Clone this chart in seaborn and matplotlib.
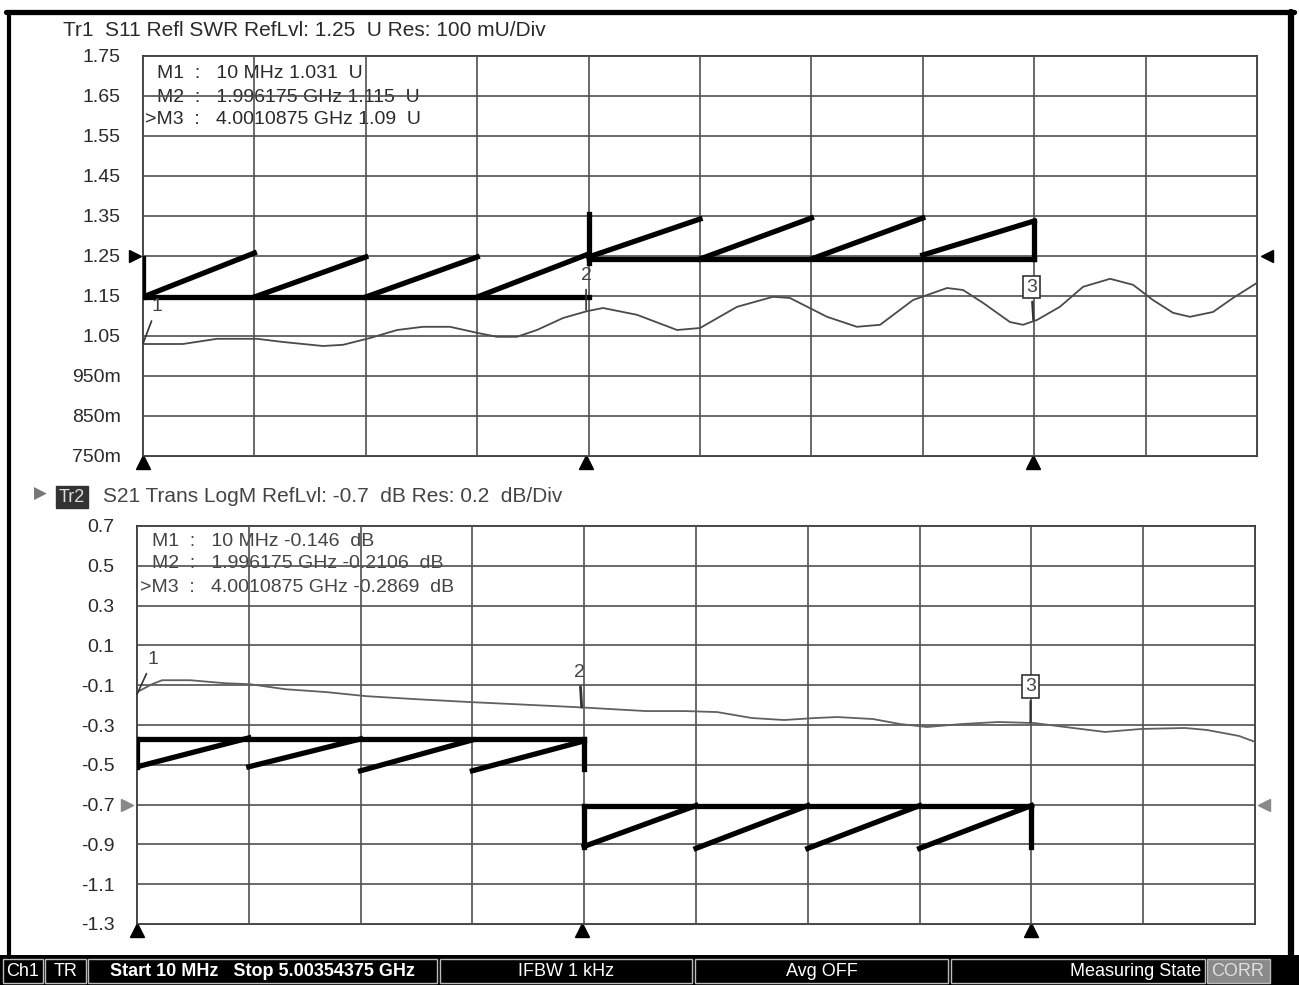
import numpy as np
import matplotlib
matplotlib.use("Agg")
import matplotlib.pyplot as plt
from matplotlib.lines import Line2D
from matplotlib.patches import Rectangle
import seaborn as sns

W, H = 1299, 985

# sweep (GHz)
f_start = 0.01
f_stop = 5.00354375

# Tr1: S11 SWR trace (GHz, U)
s11_f = [0.010, 0.189, 0.342, 0.521, 0.638, 0.817, 0.907, 1.028, 1.149, 1.265, 1.386,
         1.507, 1.597, 1.686, 1.776, 1.893, 2.000, 2.072, 2.224, 2.404, 2.507, 2.673,
         2.834, 2.910, 3.076, 3.210, 3.314, 3.462, 3.614, 3.686, 3.775, 3.896, 3.955,
         4.017, 4.120, 4.224, 4.345, 4.448, 4.537, 4.627, 4.703, 4.806, 4.896, 5.004]
s11_v = [1.030, 1.030, 1.043, 1.043, 1.035, 1.025, 1.028, 1.045, 1.065, 1.073, 1.073,
         1.058, 1.048, 1.048, 1.065, 1.095, 1.112, 1.120, 1.103, 1.065, 1.070, 1.123,
         1.148, 1.145, 1.098, 1.073, 1.078, 1.140, 1.170, 1.165, 1.133, 1.085, 1.078,
         1.090, 1.123, 1.173, 1.193, 1.178, 1.140, 1.108, 1.098, 1.110, 1.145, 1.183]

# Tr2: S21 LogM trace (GHz, dB)
s21_f = [0.010, 0.077, 0.122, 0.247, 0.403, 0.515, 0.671, 0.859, 1.033, 1.252, 1.502,
         1.689, 1.877, 2.002, 2.283, 2.458, 2.601, 2.757, 2.900, 3.038, 3.137, 3.297,
         3.418, 3.539, 3.695, 3.856, 4.016, 4.155, 4.334, 4.494, 4.691, 4.789, 4.932, 5.004]
s21_v = [-0.135, -0.095, -0.075, -0.075, -0.090, -0.095, -0.120, -0.135, -0.155, -0.170,
         -0.185, -0.195, -0.205, -0.212, -0.230, -0.230, -0.235, -0.265, -0.275, -0.265,
         -0.260, -0.270, -0.295, -0.310, -0.295, -0.285, -0.290, -0.310, -0.335, -0.320,
         -0.315, -0.325, -0.355, -0.385]

marker_f = [0.01, 1.996175, 4.0010875]
s11_marker_v = [1.031, 1.115, 1.09]
s21_marker_v = [-0.146, -0.2106, -0.2869]

s11_ticks = [1.75, 1.65, 1.55, 1.45, 1.35, 1.25, 1.15, 1.05, 0.95, 0.85, 0.75]
s11_labels = ["1.75", "1.65", "1.55", "1.45", "1.35", "1.25", "1.15", "1.05",
              "950m", "850m", "750m"]
s21_ticks = [0.7, 0.5, 0.3, 0.1, -0.1, -0.3, -0.5, -0.7, -0.9, -1.1, -1.3]
s21_labels = ["0.7", "0.5", "0.3", "0.1", "-0.1", "-0.3", "-0.5", "-0.7", "-0.9",
              "-1.1", "-1.3"]

s11_text = ["M1  :   10 MHz 1.031  U", "M2  :   1.996175 GHz 1.115  U",
            ">M3  :   4.0010875 GHz 1.09  U"]
s21_text = ["M1  :   10 MHz -0.146  dB", "M2  :   1.996175 GHz -0.2106  dB",
            ">M3  :   4.0010875 GHz -0.2869  dB"]

# thick sawtooth overlay: (grid div start, value start, grid div end, value end)
s11_saw = [(0, 1.245, 0, 1.1475), (0, 1.1475, 4, 1.1475),
           (0, 1.1475, 1, 1.2575), (1, 1.1475, 2, 1.2475), (2, 1.1475, 3, 1.2475),
           (3, 1.1475, 4, 1.2550),
           (4, 1.355, 4, 1.233), (4, 1.2425, 8, 1.2425), (8, 1.3375, 8, 1.2425),
           (4, 1.2475, 5, 1.3425), (5, 1.2425, 6, 1.345), (6, 1.2425, 7, 1.345),
           (7, 1.2525, 8, 1.3375)]
s21_saw = [(0, -0.37, 0, -0.51), (0, -0.37, 4, -0.37), (4, -0.37, 4, -0.52),
           (0, -0.51, 1, -0.365), (1, -0.51, 2, -0.37), (2, -0.53, 3, -0.375),
           (3, -0.53, 4, -0.38),
           (4, -0.705, 4, -0.915), (4, -0.705, 8, -0.705), (8, -0.705, 8, -0.915),
           (4, -0.91, 5, -0.705), (5, -0.92, 6, -0.705), (6, -0.92, 7, -0.705),
           (7, -0.92, 8, -0.705)]

status = [("Ch1", 3, 43, "center", "normal"), ("TR", 45, 86, "center", "normal"),
          ("Start 10 MHz   Stop 5.00354375 GHz", 88, 437, "center", "bold"),
          ("IFBW 1 kHz", 440, 692, "center", "normal"),
          ("Avg OFF", 695, 948, "center", "normal"),
          ("Measuring State", 951, 1205, "right", "normal")]

sns.set_theme(style="white")
plt.rcParams["font.family"] = ["Liberation Sans", "DejaVu Sans"]

grid_f = np.linspace(f_start, f_stop, 11)
ink = "#2a2a2a"
gridc = "#505050"


def fx(x):
    return x / W


def fy(y):
    return 1 - y / H


fig = plt.figure(figsize=(W / 100, H / 100), dpi=100)
ax1 = fig.add_axes([fx(143), fy(456), 1114 / W, 400 / H])
ax2 = fig.add_axes([fx(137), fy(924), 1118 / W, 398 / H])


def setup(ax, ticks, labels):
    ax.set_xlim(f_start, f_stop)
    ax.set_ylim(min(ticks), max(ticks))
    ax.set_xticks(grid_f)
    ax.set_xticklabels([])
    ax.set_yticks(ticks)
    ax.set_yticklabels(labels)
    ax.set_axisbelow(False)
    ax.grid(True, color=gridc, lw=1.2)
    ax.tick_params(length=0, labelsize=14, pad=16, colors=ink)
    for s in ax.spines.values():
        s.set_color("#333333")
        s.set_linewidth(1.3)


setup(ax1, s11_ticks, s11_labels)
setup(ax2, s21_ticks, s21_labels)

sns.lineplot(x=s11_f, y=s11_v, ax=ax1, color="#4a4a4a", lw=1.3, estimator=None, zorder=3)
sns.lineplot(x=s21_f, y=s21_v, ax=ax2, color="#606060", lw=1.3, estimator=None, zorder=3)

for ax, saw in ((ax1, s11_saw), (ax2, s21_saw)):
    for d0, v0, d1, v1 in saw:
        ax.plot([grid_f[d0], grid_f[d1]], [v0, v1], color="black", lw=3.8,
                solid_capstyle="projecting", zorder=4)


def mark(ax, f, v, label, dx, dy, boxed=False, lw=1.2):
    box = dict(boxstyle="square,pad=0.15", fc="white", ec="#333333", lw=1.2) if boxed else None
    ax.annotate(label, xy=(f, v), xytext=(dx, dy), textcoords="offset pixels",
                ha="center", va="center", fontsize=14, color="#444444", bbox=box,
                arrowprops=dict(arrowstyle="-", color="#333333", lw=lw,
                                shrinkA=2, shrinkB=0), zorder=5)


mark(ax1, marker_f[0], s11_marker_v[0], "1", 14, 37)
mark(ax1, marker_f[1], s11_marker_v[1], "2", 0, 35)
mark(ax1, marker_f[2], s11_marker_v[2], "3", -2, 33, boxed=True, lw=1.6)
mark(ax2, marker_f[0], s21_marker_v[0], "1", 16, 35)
mark(ax2, marker_f[1], s21_marker_v[1], "2", -2, 35, lw=2.0)
mark(ax2, marker_f[2], s21_marker_v[2], "3", 0, 36, boxed=True, lw=1.6)

# reference-level and marker triangles
ax1.plot([-0.007], [1.25], marker=">", ms=9, color="black",
         transform=ax1.get_yaxis_transform(), clip_on=False)
ax1.plot([1.009], [1.25], marker="<", ms=9, color="black",
         transform=ax1.get_yaxis_transform(), clip_on=False)
ax2.plot([-0.009], [-0.7], marker=">", ms=9, color="#888888",
         transform=ax2.get_yaxis_transform(), clip_on=False)
ax2.plot([1.008], [-0.7], marker="<", ms=9, color="#888888",
         transform=ax2.get_yaxis_transform(), clip_on=False)
for ax in (ax1, ax2):
    ax.plot(marker_f, [-0.016] * 3, marker="^", ms=10, ls="none", color="black",
            transform=ax.get_xaxis_transform(), clip_on=False)

# marker readouts (under the grid like on the analyser screen)
for i, (t, y) in enumerate(zip(s11_text, (73, 97, 120))):
    ax1.text(fx(145 if i == 2 else 157), fy(y), t, transform=fig.transFigure,
             fontsize=14, color=ink, va="center", zorder=1)
for i, (t, y) in enumerate(zip(s21_text, (541, 564, 588))):
    ax2.text(fx(140 if i == 2 else 152), fy(y), t, transform=fig.transFigure,
             fontsize=14, color="#444444", va="center", zorder=1)

# trace headers
fig.text(fx(63), fy(30), "Tr1  S11 Refl SWR RefLvl: 1.25  U Res: 100 mU/Div",
         fontsize=15, color=ink, va="center")
fig.text(fx(34), fy(494), "\u25B6", fontsize=12, color="#777777", va="center",
         family="DejaVu Sans")
fig.text(fx(72), fy(497), "Tr2", fontsize=13, color="#dddddd", va="center", ha="center",
         bbox=dict(boxstyle="square,pad=0.15", fc="#333333", ec="#333333"))
fig.text(fx(103), fy(497), "S21 Trans LogM RefLvl: -0.7  dB Res: 0.2  dB/Div",
         fontsize=15, color="#444444", va="center")

# outer frame of the screen
fig.add_artist(Line2D([fx(6), fx(1294)], [fy(12), fy(12)], color="black", lw=3.8))
fig.add_artist(Line2D([fx(9), fx(9)], [fy(12), fy(957)], color="black", lw=3))
fig.add_artist(Line2D([fx(1291), fx(1291)], [fy(12), fy(957)], color="black", lw=4.5))

# status bar
bar = fig.add_axes([0, 0, 1, 30 / H])
bar.set_xlim(0, W)
bar.set_ylim(0, 30)
bar.axis("off")
bar.add_patch(Rectangle((0, 0), W, 30, fc="black", ec="none"))
for label, x0, x1, ha, wt in status:
    bar.add_patch(Rectangle((x0, 2), x1 - x0, 24, fc="black", ec="#bbbbbb", lw=1))
    tx = (x0 + x1) / 2 if ha == "center" else x1 - 4
    bar.text(tx, 13, label, ha=ha, va="center", color="white", fontsize=13,
             fontweight=wt, family=["Liberation Sans Narrow", "Liberation Sans"])
bar.add_patch(Rectangle((1207, 2), 63, 24, fc="#8a8a8a", ec="#bbbbbb", lw=1))
bar.text(1238, 13, "CORR", ha="center", va="center", color="#e0e0e0", fontsize=13,
         family=["Liberation Sans Narrow", "Liberation Sans"])

fig.savefig("out.png", dpi=100, facecolor="white")
